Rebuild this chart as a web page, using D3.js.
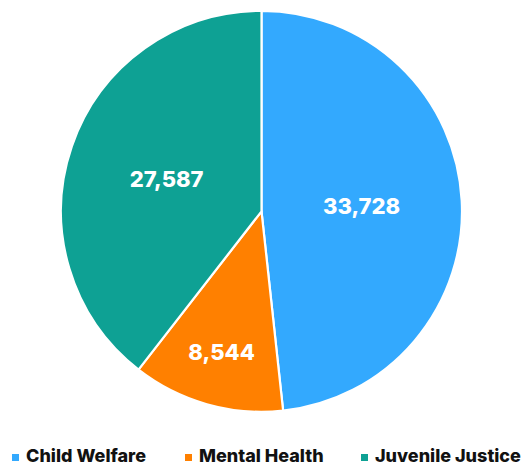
<!DOCTYPE html>
<html>
<head>
<meta charset="utf-8">
<script src="https://cdn.jsdelivr.net/npm/d3@7"></script>
<style>
  html, body { margin: 0; padding: 0; background: #fff; }
  svg { display: block; font-family: Inter, "Liberation Sans", Arial, sans-serif; }
</style>
</head>
<body>
<div id="chart"></div>
<script>
// Chart data
const categories = ["Child Welfare", "Mental Health", "Juvenile Justice"];
const values = [33728, 8544, 27587];
const colors = ["#33a9fe", "#ff8000", "#0ea194"];

const width = 522;
const height = 465;
const cx = 261.5, cy = 211.3;
const radius = 200.5;

const svg = d3.select("#chart").append("svg")
    .attr("width", width)
    .attr("height", height);

const data = categories.map((c, i) => ({ name: c, value: values[i], color: colors[i] }));
const total = d3.sum(values);

const pie = d3.pie()
    .value(d => d.value)
    .sort(null);

const arc = d3.arc()
    .innerRadius(0)
    .outerRadius(radius);

const g = svg.append("g")
    .attr("transform", `translate(${cx},${cy})`);

const arcs = pie(data);

g.selectAll("path")
    .data(arcs)
    .enter()
    .append("path")
    .attr("d", arc)
    .attr("fill", d => d.data.color)
    .attr("stroke", "#fff")
    .attr("stroke-width", 2.2)
    .attr("stroke-linejoin", "round");

// value labels: small slices get pushed further out
g.selectAll("text.val")
    .data(arcs)
    .enter()
    .append("text")
    .attr("class", "val")
    .attr("transform", d => {
        const frac = d.data.value / total < 0.2 ? 0.73 : 0.5;
        const a = (d.startAngle + d.endAngle) / 2;
        const r = radius * frac;
        return `translate(${Math.sin(a) * r},${-Math.cos(a) * r})`;
    })
    .attr("text-anchor", "middle")
    .attr("dy", "0.36em")
    .attr("fill", "#fff")
    .attr("font-size", "22px")
    .attr("font-weight", 800)
    .text(d => d3.format(",")(d.data.value));

// legend
const legendX = [12, 185, 361];
const legend = svg.append("g")
    .attr("transform", `translate(0, 457.5)`);

const item = legend.selectAll("g")
    .data(data)
    .enter()
    .append("g")
    .attr("transform", (d, i) => `translate(${legendX[i]},0)`);

item.append("rect")
    .attr("x", 0)
    .attr("y", -3.5)
    .attr("width", 7)
    .attr("height", 7)
    .attr("fill", d => d.color);

item.append("text")
    .attr("x", 14)
    .attr("y", 4.5)
    .attr("font-size", "18px")
    .attr("font-weight", 800)
    .attr("fill", "#111")
    .text(d => d.name);
</script>
</body>
</html>
